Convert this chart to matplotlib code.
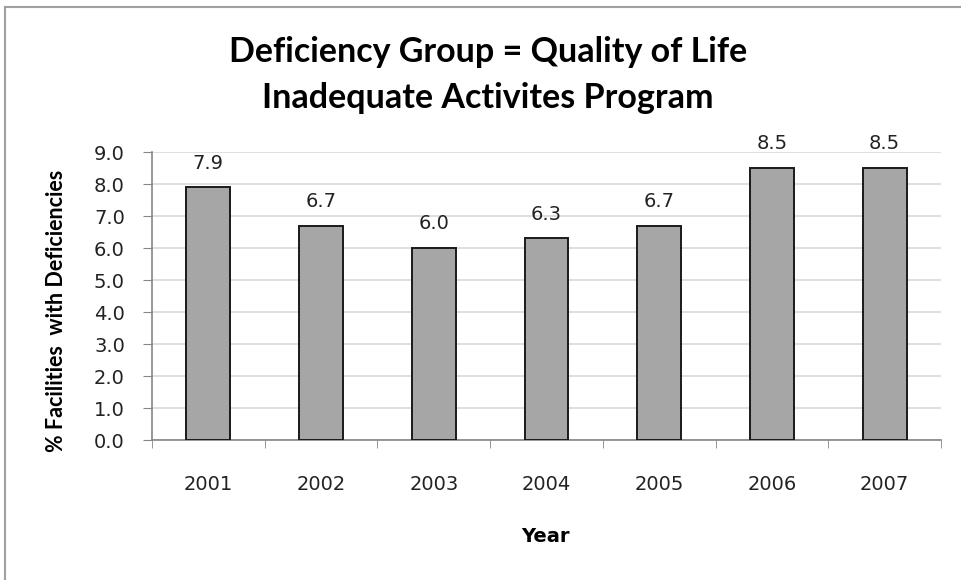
import matplotlib.pyplot as plt
from matplotlib.lines import Line2D
import numpy as np

years = ['2001', '2002', '2003', '2004', '2005', '2006', '2007']
pct = [7.9, 6.7, 6.0, 6.3, 6.7, 8.5, 8.5]
yticks = [0, 1, 2, 3, 4, 5, 6, 7, 8, 9]

plt.rcParams['font.family'] = 'DejaVu Sans'

fig = plt.figure(figsize=(9.61, 5.80), dpi=100)
ax = fig.add_axes([152/961, 1 - 440/580, (941 - 152)/961, (440 - 152)/580])

x = np.arange(len(years))
ax.bar(x, pct, width=0.39, color='#a6a6a6', edgecolor='#1a1a1a', linewidth=1.4, zorder=3)
for xi, v in zip(x, pct):
    ax.annotate(f'{v:.1f}', (xi, v), xytext=(0, 10.5), textcoords='offset points',
                ha='center', va='bottom', fontsize=14, color='#222222')

ax.set_xlim(-0.5, len(years) - 0.5)
ax.set_ylim(0, 9)
ax.set_yticks(yticks)
ax.set_yticklabels([f'{t:.1f}' for t in yticks], fontsize=14, color='#222222')
ax.set_xticks(x)
ax.set_xticklabels(years, fontsize=14, color='#222222')
ax.set_xticks(np.arange(len(years) + 1) - 0.5, minor=True)
ax.tick_params(axis='x', which='major', length=0, pad=25)
ax.tick_params(axis='x', which='minor', length=6, color='#868686', direction='out')
ax.tick_params(axis='y', length=6.5, color='#868686', direction='out', pad=13)

ax.grid(axis='y', color='#d9d9d9', linewidth=1.2, zorder=0)
ax.set_axisbelow(True)
for s in ['top', 'right']:
    ax.spines[s].set_visible(False)
for s in ['left', 'bottom']:
    ax.spines[s].set_color('#868686')
    ax.spines[s].set_linewidth(1.2)

ax.set_xlabel('Year', fontsize=14, fontweight='bold')
ax.xaxis.set_label_coords(0.498, -0.303)
ax.set_ylabel('% Facilities  with Deficiencies', fontsize=15.5, fontweight='bold',
              family='Lato')
ax.yaxis.set_label_coords(-0.108, 0.448)

fig.text(488/961, 1 - 52/580, 'Deficiency Group = Quality of Life', ha='center', va='center',
         fontsize=24.5, fontweight='bold', family='Lato')
fig.text(488/961, 1 - 98/580, 'Inadequate Activites Program', ha='center', va='center',
         fontsize=24.5, fontweight='bold', family='Lato')

# outer chart frame
fig.add_artist(Line2D([5/961, 5/961], [0, 1 - 7/580], color='#a0a0a0', linewidth=1.5))
fig.add_artist(Line2D([5/961, 1], [1 - 7/580, 1 - 7/580], color='#a0a0a0', linewidth=1.5))

fig.savefig('out.png', dpi=100)
